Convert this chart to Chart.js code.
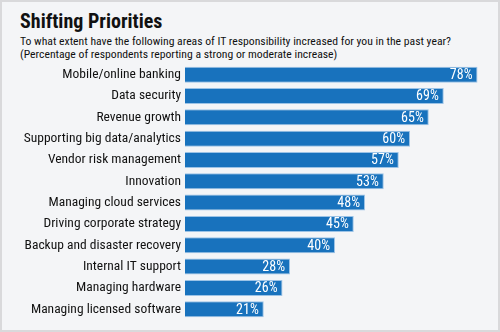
<!DOCTYPE html>
<html>
<head>
<meta charset="utf-8">
<script src="https://cdn.jsdelivr.net/npm/chart.js@4/dist/chart.umd.min.js"></script>
<style>
  html, body { margin: 0; padding: 0; }
  body { width: 500px; height: 332px; overflow: hidden; }
  #frame { position: relative; width: 496px; height: 328px; border: 2px solid #d9d9db; background: #f4f5f7; }
  #title { position: absolute; left: 18px; top: 7px; font-family: Roboto, sans-serif; font-stretch: condensed; font-weight: bold; font-size: 20px; line-height: 24px; color: #111; }
  #sub { position: absolute; left: 18px; top: 33px; font-family: Roboto, sans-serif; font-stretch: condensed; font-size: 11.7px; line-height: 12.5px; color: #111; white-space: nowrap; }
  #wrap { position: absolute; left: -2px; top: -2px; width: 500px; height: 332px; }
</style>
</head>
<body>
<div id="frame">
  <div id="title">Shifting Priorities</div>
  <div id="sub">To what extent have the following areas of IT responsibility increased for you in the past year?<br>(Percentage of respondents reporting a strong or moderate increase)</div>
  <div id="wrap"><canvas id="c" width="500" height="332"></canvas></div>
</div>
<script>
const categories = [
  "Mobile/online banking",
  "Data security",
  "Revenue growth",
  "Supporting big data/analytics",
  "Vendor risk management",
  "Innovation",
  "Managing cloud services",
  "Driving corporate strategy",
  "Backup and disaster recovery",
  "Internal IT support",
  "Managing hardware",
  "Managing licensed software"
];
const values = [78, 69, 65, 60, 57, 53, 48, 45, 40, 28, 26, 21];

const valueLabels = {
  id: 'valueLabels',
  afterDatasetsDraw(chart) {
    const ctx = chart.ctx;
    const meta = chart.getDatasetMeta(0);
    ctx.save();
    ctx.fillStyle = '#ffffff';
    ctx.font = 'condensed 14px Roboto';
    ctx.textAlign = 'right';
    ctx.textBaseline = 'middle';
    meta.data.forEach((bar, i) => {
      ctx.fillText(values[i] + '%', bar.x - 5, bar.y + 1);
    });
    ctx.restore();
  }
};

new Chart(document.getElementById('c'), {
  type: 'bar',
  data: {
    labels: categories,
    datasets: [{
      data: values,
      backgroundColor: '#1872bd',
      borderColor: '#9cc3e6',
      borderWidth: 1,
      barPercentage: 0.75,
      categoryPercentage: 1
    }]
  },
  options: {
    indexAxis: 'y',
    responsive: false,
    animation: false,
    layout: { padding: { top: 64, bottom: 10, left: 0, right: 15 } },
    plugins: { legend: { display: false }, tooltip: { enabled: false } },
    scales: {
      x: { display: false, min: 0, max: 80 },
      y: {
        grid: { display: false, drawTicks: false },
        border: { display: false },
        ticks: { color: '#111', font: { family: 'Roboto', size: 13.5, weight: 'condensed' }, padding: 4, autoSkip: false },
        afterFit(scale) { scale.width = 185; }
      }
    }
  },
  plugins: [valueLabels]
});
</script>
</body>
</html>
